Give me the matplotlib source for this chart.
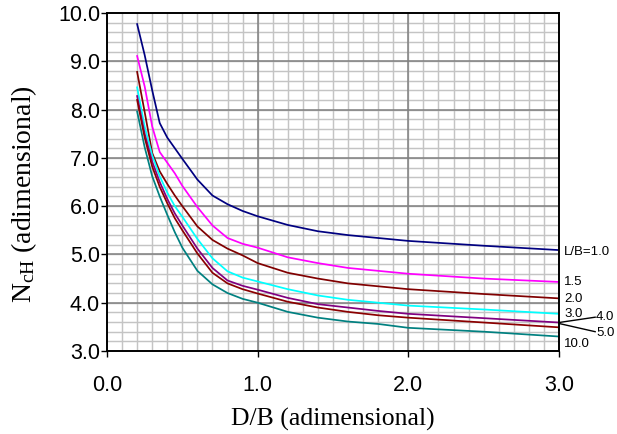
import matplotlib
matplotlib.use("Agg")
import matplotlib.pyplot as plt
import numpy as np

x_db = [0.2, 0.25, 0.3, 0.35, 0.4, 0.45, 0.5, 0.6, 0.7, 0.8, 0.9, 1.0, 1.2, 1.4, 1.6, 1.8, 2.0, 2.5, 3.0]

n_lb10 = [9.77, 9.13, 8.40, 7.72, 7.42, 7.20, 6.98, 6.55, 6.22, 6.04, 5.90, 5.79, 5.61, 5.48, 5.40, 5.34, 5.28, 5.18, 5.09]
n_lb15 = [9.11, 8.48, 7.65, 7.12, 6.90, 6.68, 6.42, 5.98, 5.60, 5.34, 5.22, 5.14, 4.94, 4.82, 4.72, 4.66, 4.60, 4.50, 4.43]
n_lb20 = [8.78, 7.95, 7.10, 6.72, 6.46, 6.22, 6.00, 5.58, 5.30, 5.12, 4.98, 4.82, 4.62, 4.50, 4.40, 4.34, 4.28, 4.18, 4.09]
n_lb30 = [8.46, 7.65, 7.05, 6.62, 6.28, 6.00, 5.78, 5.32, 4.92, 4.65, 4.52, 4.44, 4.28, 4.15, 4.06, 4.00, 3.94, 3.86, 3.77]
n_lb40 = [8.28, 7.50, 6.92, 6.50, 6.15, 5.85, 5.60, 5.12, 4.72, 4.46, 4.35, 4.27, 4.10, 3.97, 3.90, 3.83, 3.77, 3.68, 3.59]
n_lb50 = [8.20, 7.42, 6.82, 6.40, 6.06, 5.75, 5.50, 5.02, 4.62, 4.40, 4.28, 4.19, 4.02, 3.90, 3.81, 3.74, 3.69, 3.59, 3.49]
n_lb100 = [7.96, 7.22, 6.62, 6.20, 5.82, 5.46, 5.14, 4.66, 4.38, 4.20, 4.08, 4.00, 3.81, 3.69, 3.61, 3.56, 3.48, 3.40, 3.30]

series = [n_lb10, n_lb15, n_lb20, n_lb30, n_lb40, n_lb50, n_lb100]
colors = ["#000080", "#FF00FF", "#800000", "#00FFFF", "#800080", "#8B0000", "#008080"]

curve_labels = ["L/B=1.0", "1.5", "2.0", "3.0", "4.0", "5.0", "10.0"]
label_y = [5.06, 4.43, 4.08, 3.77, 3.71, 3.37, 3.14]

x_ticks = [0.0, 1.0, 2.0, 3.0]
y_ticks = [3.0, 4.0, 5.0, 6.0, 7.0, 8.0, 9.0, 10.0]

plt.rcParams['mathtext.fontset'] = 'custom'
plt.rcParams['mathtext.rm'] = 'Liberation Serif'
plt.rcParams['mathtext.it'] = 'Liberation Serif:italic'

fig = plt.figure(figsize=(6.17, 4.34), dpi=100)
ax = fig.add_axes([107/617, 1-351/434, (559-107)/617, (351-13)/434])

ax.set_xlim(0, 3)
ax.set_ylim(3, 10)

# grid drawn manually so major lines sit on top of minor ones
for xv in np.arange(0.1, 3.0, 0.1):
    ax.axvline(xv, color="#c4c4c4", linewidth=1.05, zorder=1)
for yv in np.arange(3.2, 10.0, 0.2):
    ax.axhline(yv, color="#c4c4c4", linewidth=1.05, zorder=1)
for xv in x_ticks[1:-1]:
    ax.axvline(xv, color="#808080", linewidth=1.1, zorder=1.1)
for yv in y_ticks[1:-1]:
    ax.axhline(yv, color="#808080", linewidth=1.1, zorder=1.1)

ax.set_xticks(x_ticks)
ax.set_yticks(y_ticks)
ax.set_xticklabels([f"{v:.1f}" for v in x_ticks], fontfamily="Liberation Sans", fontsize=15.5)
ax.set_yticklabels([f"{v:.1f}" for v in y_ticks], fontfamily="Liberation Sans", fontsize=15.5)
ax.tick_params(which="major", direction="out", length=4, width=1.0, colors="black")
ax.tick_params(axis="y", pad=1)
ax.tick_params(axis="x", pad=13)
for s in ax.spines.values():
    s.set_linewidth(1.4)
    s.set_color("black")
    s.set_zorder(3)

for ys, c in zip(series, colors):
    ax.plot(x_db, ys, color=c, linewidth=1.25, zorder=2)

for lab, yv in zip(curve_labels, label_y):
    xt = 3.035 if lab not in ("4.0", "5.0") else 3.245
    ax.text(xt, yv, lab, fontsize=9.5, fontfamily="Liberation Sans", va="center", ha="left", clip_on=False)

ax.plot([3.0, 3.24], [3.59, 3.70], color="black", linewidth=1.0, clip_on=False)
ax.plot([3.0, 3.24], [3.57, 3.40], color="black", linewidth=1.0, clip_on=False)

ax.set_xlabel("D/B (adimensional)", fontfamily="Liberation Serif", fontsize=18.5, labelpad=9)
ax.set_ylabel(r"N$_{\rm cH}$ (adimensional)", fontfamily="Liberation Serif", fontsize=20)
ax.yaxis.set_label_coords(-0.15, 0.465)

fig.savefig("out.png", dpi=100)
